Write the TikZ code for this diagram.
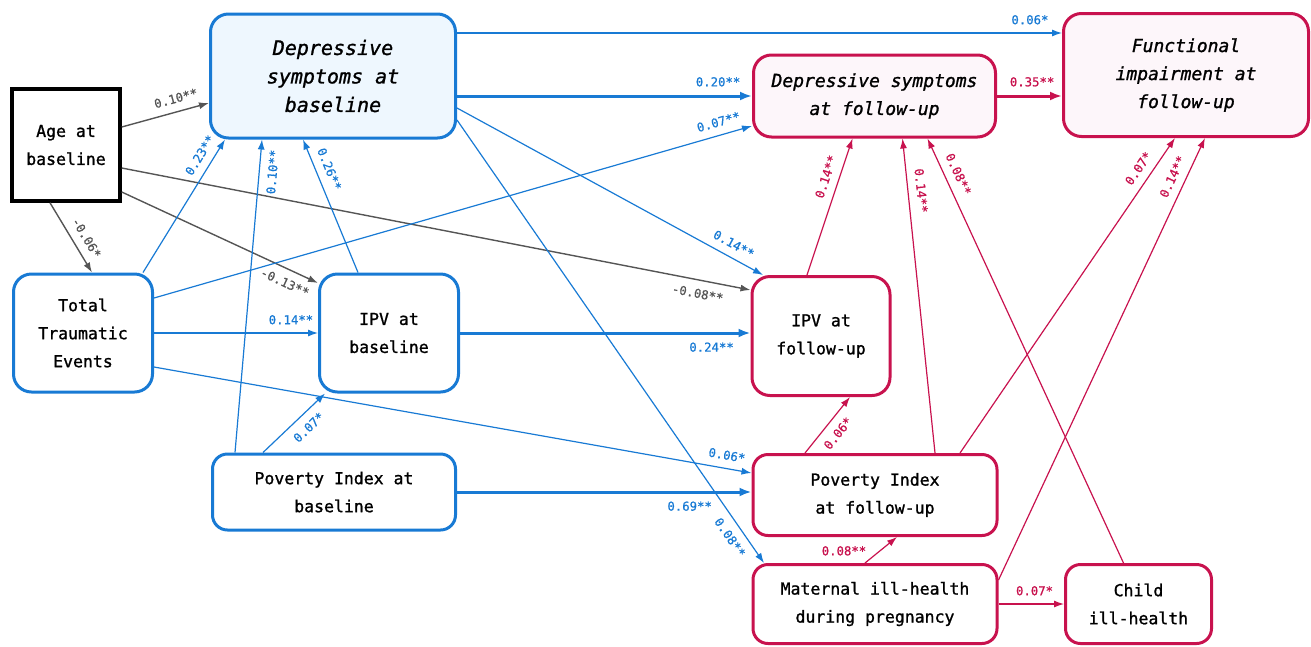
\documentclass[tikz,border=0pt]{standalone}
\usepackage{fontspec}
\setmonofont{DejaVu Sans Mono}
\newfontfamily\nodemono[FakeBold=1.2]{DejaVu Sans Mono}
\newfontfamily\coefmono[FakeBold=0.8]{DejaVu Sans Mono}
\usetikzlibrary{arrows.meta}
\definecolor{blu}{RGB}{24,122,212}
\definecolor{crim}{RGB}{200,18,78}
\definecolor{gry}{RGB}{85,85,85}
\definecolor{blufill}{RGB}{238,247,254}
\definecolor{crimfill}{RGB}{253,246,250}
\newcommand{\boxfont}{\nodemono\fontsize{16.5}{28}\selectfont}
\newcommand{\depfont}{\nodemono\itshape\fontsize{18}{28}\selectfont}
\newcommand{\depbfont}{\nodemono\itshape\fontsize{20}{28.5}\selectfont}
\newcommand{\coeffont}{\coefmono\fontsize{12.3}{13}\selectfont}
\tikzset{
  >={Latex[length=10pt,width=7pt]},
}
\tikzstyle{nodebox}=[rounded corners=18pt,line width=3pt,align=center,font=\boxfont]
\tikzstyle{blbox}=[nodebox,draw=blu,fill=white]
\tikzstyle{rdbox}=[nodebox,draw=crim,fill=white]
\tikzstyle{coef}=[font=\coeffont,inner sep=8pt]
\tikzstyle{bl}=[blu,line width=1.2pt,->]
\tikzstyle{blthick}=[blu,line width=3pt,-{Latex[length=12pt,width=9pt]}]
\tikzstyle{rd}=[crim,line width=1.2pt,->]
\tikzstyle{rdthick}=[crim,line width=3pt,-{Latex[length=12pt,width=9pt]}]
\tikzstyle{gy}=[gry,line width=1.4pt,->]

\begin{document}
\begin{tikzpicture}[x=1pt,y=-1pt]
  \useasboundingbox (0,0) rectangle (1311,646);
  \node[draw=black,line width=3.5pt,align=center,font=\boxfont,minimum width=108pt,minimum height=112pt] (age) at (66,145) {Age at\\baseline};
  \node[blbox,fill=blufill,font=\depbfont,minimum width=245pt,minimum height=124pt] (depB) at (333,76) {Depressive\\symptoms at\\baseline};
  \node[blbox,minimum width=139pt,minimum height=118pt] (tte) at (83,333) {Total\\Traumatic\\Events};
  \node[blbox,minimum width=139pt,minimum height=118pt] (ipvB) at (389,333) {IPV at\\baseline};
  \node[blbox,rounded corners=15pt,minimum width=243pt,minimum height=76pt] (povB) at (334,492) {Poverty Index at\\baseline};
  \node[rdbox,fill=crimfill,font=\depfont,minimum width=242pt,minimum height=82pt] (depF) at (874.5,96) {Depressive symptoms\\at follow-up};
  \node[rdbox,fill=crimfill,font=\depfont,minimum width=245pt,minimum height=123pt] (func) at (1186,75) {Functional\\impairment at\\follow-up};
  \node[rdbox,minimum width=138pt,minimum height=119pt] (ipvF) at (821,336) {IPV at\\follow-up};
  \node[rdbox,rounded corners=15pt,minimum width=244pt,minimum height=81pt] (povF) at (875,495) {Poverty Index\\at follow-up};
  \node[rdbox,rounded corners=15pt,minimum width=244pt,minimum height=79pt] (mat) at (875,604) {Maternal ill-health\\during pregnancy};
  \node[rdbox,rounded corners=15pt,minimum width=146pt,minimum height=79pt] (child) at (1138.5,604) {Child\\ill-health};

  \draw[gy] ([yshift=18pt]age.east) -- node[coef,sloped,above,pos=.66]{0.10**} ([yshift=-27pt]depB.west);
  \draw[gy] ([xshift=-16pt]age.south) -- node[coef,sloped,above,pos=.6]{-0.06*} ([xshift=9pt]tte.north);
  \draw[gy] ([yshift=-47pt]age.east) -- node[coef,sloped,below,pos=.86]{-0.13**} ([yshift=50pt]ipvB.west);
  \draw[gy] ([yshift=-23pt]age.east) -- node[coef,sloped,below,pos=.92]{-0.08**} ([yshift=46pt]ipvF.west);

  \draw[bl] ([xshift=60pt]tte.north) -- node[coef,sloped,above,pos=.83]{0.23**} ([xshift=-108pt]depB.south);
  \draw[bl] ([xshift=-99pt]povB.north) -- node[coef,sloped,below,pos=.9]{0.10**} ([xshift=-71pt]depB.south);
  \draw[bl] ([xshift=-31pt]ipvB.north) -- node[coef,sloped,above,pos=.74]{0.26**} ([xshift=-30pt]depB.south);
  \draw[bl] ([xshift=-71pt]povB.north) -- node[coef,sloped,below,pos=.59]{0.07*} ([xshift=-64pt]ipvB.south);
  \draw[bl] (tte.east) -- node[coef,above,pos=.835]{0.14**} (tte.east -| ipvB.west);
  \draw[bl] ([yshift=35pt]tte.east) -- node[coef,sloped,above,pos=.95]{0.07**} ([yshift=-30pt]depF.west);
  \draw[bl] ([yshift=-34pt]tte.east) -- node[coef,sloped,above,pos=.955]{0.06*} ([yshift=22pt]povF.west);
  \draw[bl] ([yshift=43pt]depB.east) -- node[coef,above,pos=.947]{0.06*} ([yshift=42pt]func.west);
  \draw[bl] ([yshift=-32pt]depB.east) -- node[coef,sloped,above,pos=.884]{0.14**} ([xshift=-58pt]ipvF.north);
  \draw[bl] ([yshift=-44pt]depB.east) -- node[coef,sloped,below,pos=.925]{0.08**} ([xshift=-111pt]mat.north);
  \draw[blthick] (depB.east |- depF.west) -- node[coef,above,pos=.885]{0.20**} (depF.west);
  \draw[blthick] (ipvB.east) -- node[coef,below,pos=.866]{0.24**} (ipvB.east -| ipvF.west);
  \draw[blthick] (povB.east) -- node[coef,below,pos=.79]{0.69**} (povB.east -| povF.west);

  \draw[rdthick] (depF.east) -- node[coef,above,pos=.54]{0.35**} (depF.east -| func.west);
  \draw[rd] ([xshift=-14pt]ipvF.north) -- node[coef,sloped,above,pos=.69]{0.14**} ([xshift=-22pt]depF.south);
  \draw[rd] ([xshift=60pt]povF.north) -- node[coef,sloped,above,pos=.83]{0.14**} ([xshift=28pt]depF.south);
  \draw[rd] ([xshift=-15pt]child.north) -- node[coef,sloped,above,pos=.903]{0.08**} ([xshift=53pt]depF.south);
  \draw[rd] ([xshift=85pt]povF.north) -- node[coef,sloped,above,pos=.88]{0.07*} ([xshift=-11pt]func.south);
  \draw[rd] ([yshift=24pt]mat.east) -- node[coef,sloped,above,pos=.9]{0.14**} ([xshift=19pt]func.south);
  \draw[rd] ([xshift=-70pt]povF.north) -- node[coef,sloped,below,pos=.5]{0.06*} ([xshift=29pt]ipvF.south);
  \draw[rd] ([xshift=-10pt]mat.north) -- node[coef,inner sep=3pt,above left,pos=.15]{0.08**} ([xshift=22pt]povF.south);
  \draw[rd] (mat.east) -- node[coef,above,pos=.55]{0.07*} (mat.east -| child.west);
\end{tikzpicture}
\end{document}
